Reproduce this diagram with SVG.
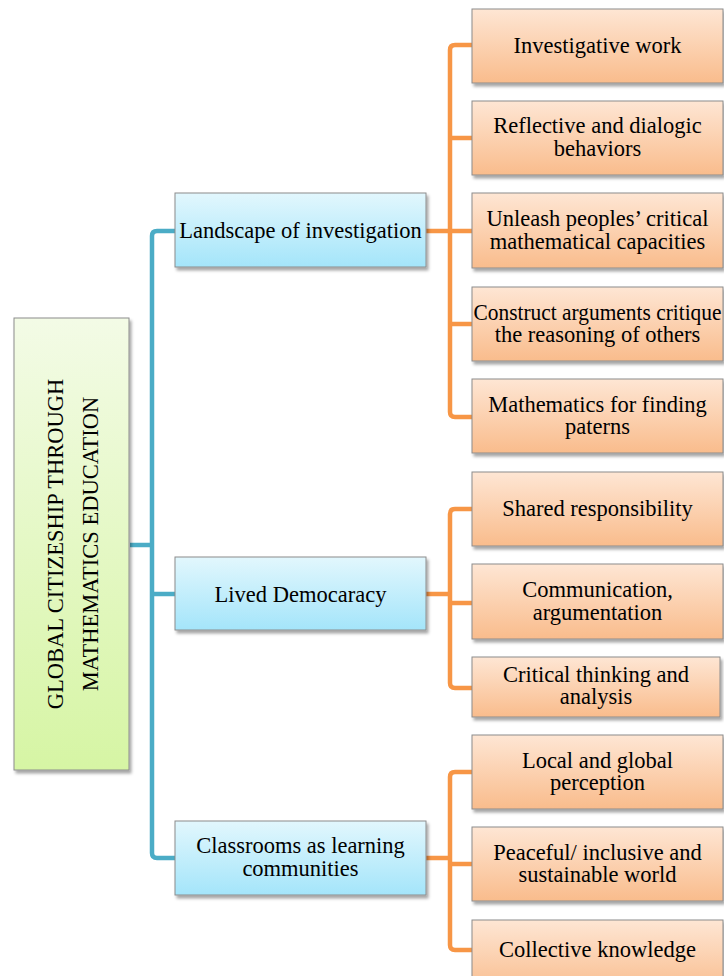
<svg xmlns="http://www.w3.org/2000/svg" width="724" height="976" viewBox="0 0 724 976">
  <defs>
    <linearGradient id="gOrange" x1="0" y1="0" x2="0" y2="1">
      <stop offset="0" stop-color="#FEE6D4"/>
      <stop offset="1" stop-color="#F9BC8C"/>
    </linearGradient>
    <linearGradient id="gBlue" x1="0" y1="0" x2="0" y2="1">
      <stop offset="0" stop-color="#E2F7FD"/>
      <stop offset="1" stop-color="#A4E5FA"/>
    </linearGradient>
    <linearGradient id="gGreen" x1="0" y1="0" x2="0" y2="1">
      <stop offset="0" stop-color="#F3FBE6"/>
      <stop offset="1" stop-color="#D6F5A4"/>
    </linearGradient>
    <filter id="shadow" x="-10%" y="-10%" width="120%" height="130%">
      <feDropShadow dx="2" dy="3" stdDeviation="1.8" flood-color="#000" flood-opacity="0.35"/>
    </filter>
  </defs>
  <style>
    .box { stroke: #8C8C8C; stroke-width: 1; filter: url(#shadow); }
    .leaf { fill: url(#gOrange); }
    .mid { fill: url(#gBlue); }
    .root { fill: url(#gGreen); }
    text { font-family: "Liberation Serif", "Times New Roman", serif; font-size: 22.5px; fill: #000; text-anchor: middle; }
    .blueLine { fill: none; stroke: #4BACC6; stroke-width: 4.5; }
    .orangeLine { fill: none; stroke: #F79646; stroke-width: 4.5; }
  </style>

  <rect width="724" height="976" fill="#FFFFFF"/>

  <!-- connectors -->
  <g id="connectors">
    <path class="blueLine" d="M130,545 H152"/>
    <path class="blueLine" d="M175,231 H157 Q152,231 152,236 V853 Q152,858 157,858 H175"/>
    <path class="blueLine" d="M152,594 H175"/>

    <path class="orangeLine" d="M426,231 H450"/>
    <path class="orangeLine" d="M473,45 H455 Q450,45 450,50 V412 Q450,417 455,417 H473"/>
    <path class="orangeLine" d="M450,138 H473 M450,231 H473 M450,324 H473"/>

    <path class="orangeLine" d="M426,594 H450"/>
    <path class="orangeLine" d="M473,509 H455 Q450,509 450,514 V683 Q450,688 455,688 H473"/>
    <path class="orangeLine" d="M450,603 H473"/>

    <path class="orangeLine" d="M426,858 H450"/>
    <path class="orangeLine" d="M473,772 H455 Q450,772 450,777 V945 Q450,950 455,950 H473"/>
    <path class="orangeLine" d="M450,864 H473"/>
  </g>

  <!-- root -->
  <g id="root">
    <rect class="box root" x="14" y="318" width="115" height="452"/>
    <g transform="translate(63,544) rotate(-90)">
      <text x="0" y="0">GLOBAL CITIZESHIP THROUGH</text>
      <text x="0" y="35">MATHEMATICS EDUCATION</text>
    </g>
  </g>

  <!-- second level -->
  <g id="landscape">
    <rect class="box mid" x="175" y="193" width="251" height="74"/>
    <text x="300.5" y="238">Landscape of investigation</text>
  </g>
  <g id="lived-democracy">
    <rect class="box mid" x="175" y="557" width="251" height="73"/>
    <text x="300.5" y="601.5">Lived Democaracy</text>
  </g>
  <g id="classrooms">
    <rect class="box mid" x="175" y="821" width="251" height="74"/>
    <text x="300.5" y="853">Classrooms as learning</text>
    <text x="300.5" y="875.5">communities</text>
  </g>

  <!-- leaves: landscape of investigation -->
  <g id="investigative-work">
    <rect class="box leaf" x="472" y="9" width="251" height="74"/>
    <text x="597.5" y="53">Investigative work</text>
  </g>
  <g id="reflective">
    <rect class="box leaf" x="472" y="101" width="251" height="74"/>
    <text x="597.5" y="133">Reflective and dialogic</text>
    <text x="597.5" y="156">behaviors</text>
  </g>
  <g id="unleash">
    <rect class="box leaf" x="472" y="193" width="251" height="75"/>
    <text x="597.5" y="226">Unleash peoples’ critical</text>
    <text x="597.5" y="248.5">mathematical capacities</text>
  </g>
  <g id="construct">
    <rect class="box leaf" x="472" y="287" width="251" height="74"/>
    <text x="597.5" y="319.5" textLength="248" lengthAdjust="spacingAndGlyphs">Construct arguments critique</text>
    <text x="597.5" y="342">the reasoning of others</text>
  </g>
  <g id="mathematics">
    <rect class="box leaf" x="472" y="379" width="251" height="74"/>
    <text x="597.5" y="411.5">Mathematics for finding</text>
    <text x="597.5" y="434">paterns</text>
  </g>

  <!-- leaves: lived democracy -->
  <g id="shared">
    <rect class="box leaf" x="472" y="472" width="251" height="74"/>
    <text x="597.5" y="516">Shared responsibility</text>
  </g>
  <g id="communication">
    <rect class="box leaf" x="472" y="564" width="251" height="75"/>
    <text x="597.5" y="597">Communication,</text>
    <text x="597.5" y="619.5">argumentation</text>
  </g>
  <g id="critical">
    <rect class="box leaf" x="472" y="657" width="248" height="60"/>
    <text x="596" y="682">Critical thinking and</text>
    <text x="596" y="704">analysis</text>
  </g>

  <!-- leaves: classrooms as learning communities -->
  <g id="local-global">
    <rect class="box leaf" x="472" y="735" width="251" height="74"/>
    <text x="597.5" y="767.5">Local and global</text>
    <text x="597.5" y="790">perception</text>
  </g>
  <g id="peaceful">
    <rect class="box leaf" x="472" y="827" width="251" height="74"/>
    <text x="597.5" y="859.5">Peaceful/ inclusive and</text>
    <text x="597.5" y="882">sustainable world</text>
  </g>
  <g id="collective">
    <rect class="box leaf" x="472" y="920" width="251" height="74"/>
    <text x="597.5" y="957">Collective knowledge</text>
  </g>
</svg>
